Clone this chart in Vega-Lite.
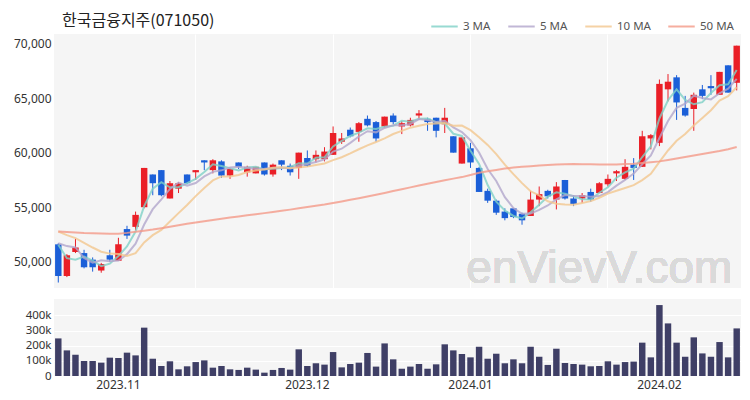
{
  "$schema": "https://vega.github.io/schema/vega-lite/v6.json",
  "background": "white",
  "padding": {"left": 5, "top": 12, "right": 9, "bottom": 5},
  "config": {
    "view": {"fill": "#f5f5f5", "stroke": null},
    "font": "Noto Sans",
    "axis": {"labelColor": "#333333", "labelFontSize": 12, "domain": false, "ticks": false, "gridColor": "#ffffff", "gridWidth": 1, "title": null}
  },
  "title": {"text": "한국금융지주(071050)", "font": "Noto Sans CJK KR", "fontSize": 16, "fontWeight": "normal", "color": "#222222", "anchor": "start", "frame": "group", "dx": 8, "offset": -17},
  "data": {"values": [
    {"d":"2023-10-23","o":51600,"h":51700,"l":48100,"c":48700,"v":248000,"m3":51570,"m5":51700,"m10":52780,"m50":52780},
    {"d":"2023-10-24","o":48700,"h":50700,"l":48600,"c":50600,"v":169000,"m3":50330,"m5":51440,"m10":52440,"m50":52730},
    {"d":"2023-10-25","o":50900,"h":52100,"l":50800,"c":51300,"v":141000,"m3":50200,"m5":51320,"m10":52170,"m50":52680},
    {"d":"2023-10-26","o":50800,"h":51100,"l":49400,"c":49500,"v":99000,"m3":50470,"m5":50360,"m10":51740,"m50":52630},
    {"d":"2023-10-27","o":50200,"h":50400,"l":49100,"c":49500,"v":99000,"m3":50100,"m5":49920,"m10":51310,"m50":52610},
    {"d":"2023-10-30","o":49200,"h":49900,"l":49000,"c":49800,"v":88000,"m3":49600,"m5":50140,"m10":50920,"m50":52600},
    {"d":"2023-10-31","o":50600,"h":51100,"l":50000,"c":50200,"v":121000,"m3":49830,"m5":50060,"m10":50750,"m50":52580},
    {"d":"2023-11-01","o":50100,"h":52200,"l":50100,"c":51600,"v":119000,"m3":50530,"m5":50120,"m10":50720,"m50":52570},
    {"d":"2023-11-02","o":53000,"h":53300,"l":52100,"c":52400,"v":154000,"m3":51400,"m5":50700,"m10":50530,"m50":52650},
    {"d":"2023-11-03","o":53200,"h":54600,"l":52900,"c":54300,"v":136000,"m3":52770,"m5":51660,"m10":50790,"m50":52750},
    {"d":"2023-11-06","o":55000,"h":58600,"l":54900,"c":58600,"v":319000,"m3":55100,"m5":53420,"m10":51780,"m50":52850},
    {"d":"2023-11-07","o":58000,"h":58000,"l":56100,"c":57200,"v":114000,"m3":56700,"m5":54820,"m10":52440,"m50":52950},
    {"d":"2023-11-08","o":58400,"h":58400,"l":56000,"c":56100,"v":66000,"m3":57300,"m5":55720,"m10":52920,"m50":53080},
    {"d":"2023-11-09","o":55800,"h":57400,"l":55800,"c":57200,"v":97000,"m3":56830,"m5":56680,"m10":53690,"m50":53210},
    {"d":"2023-11-10","o":56700,"h":57300,"l":56300,"c":57200,"v":44000,"m3":56830,"m5":57260,"m10":54460,"m50":53340},
    {"d":"2023-11-13","o":58000,"h":58000,"l":57100,"c":57200,"v":64000,"m3":57200,"m5":56980,"m10":55200,"m50":53480},
    {"d":"2023-11-14","o":58200,"h":58400,"l":57500,"c":58400,"v":92000,"m3":57600,"m5":57220,"m10":56020,"m50":53600},
    {"d":"2023-11-15","o":59300,"h":59300,"l":58400,"c":59100,"v":103000,"m3":58230,"m5":57820,"m10":56770,"m50":53720},
    {"d":"2023-11-16","o":58400,"h":59400,"l":58100,"c":59300,"v":55000,"m3":58930,"m5":58240,"m10":57460,"m50":53840},
    {"d":"2023-11-17","o":59200,"h":59300,"l":57700,"c":57900,"v":66000,"m3":58770,"m5":58380,"m10":57820,"m50":53950},
    {"d":"2023-11-20","o":57900,"h":58600,"l":57600,"c":58500,"v":44000,"m3":58570,"m5":58640,"m10":57810,"m50":54060},
    {"d":"2023-11-21","o":59100,"h":59100,"l":58500,"c":58700,"v":40000,"m3":58370,"m5":58700,"m10":57960,"m50":54160},
    {"d":"2023-11-22","o":58200,"h":58800,"l":57800,"c":58700,"v":55000,"m3":58630,"m5":58620,"m10":58220,"m50":54260},
    {"d":"2023-11-23","o":58100,"h":58700,"l":58100,"c":58700,"v":42000,"m3":58700,"m5":58500,"m10":58370,"m50":54360},
    {"d":"2023-11-24","o":59100,"h":59100,"l":57900,"c":58000,"v":22000,"m3":58470,"m5":58520,"m10":58450,"m50":54460},
    {"d":"2023-11-27","o":58000,"h":59000,"l":57800,"c":58900,"v":40000,"m3":58530,"m5":58600,"m10":58620,"m50":54560},
    {"d":"2023-11-28","o":59300,"h":59300,"l":58400,"c":58900,"v":53000,"m3":58600,"m5":58640,"m10":58670,"m50":54670},
    {"d":"2023-11-29","o":58800,"h":59000,"l":57900,"c":58200,"v":42000,"m3":58670,"m5":58540,"m10":58580,"m50":54780},
    {"d":"2023-11-30","o":58600,"h":60000,"l":57600,"c":60000,"v":176000,"m3":59030,"m5":58800,"m10":58650,"m50":54900},
    {"d":"2023-12-01","o":59500,"h":60200,"l":58700,"c":58800,"v":66000,"m3":59000,"m5":58960,"m10":58740,"m50":55020},
    {"d":"2023-12-04","o":59400,"h":60200,"l":59100,"c":59800,"v":84000,"m3":59530,"m5":59140,"m10":58870,"m50":55130},
    {"d":"2023-12-05","o":59400,"h":60500,"l":59200,"c":60100,"v":75000,"m3":59570,"m5":59380,"m10":59010,"m50":55250},
    {"d":"2023-12-06","o":59800,"h":62400,"l":59800,"c":61800,"v":158000,"m3":60570,"m5":60100,"m10":59320,"m50":55390},
    {"d":"2023-12-07","o":61000,"h":61800,"l":60800,"c":61300,"v":57000,"m3":61070,"m5":60360,"m10":59580,"m50":55530},
    {"d":"2023-12-08","o":62100,"h":62300,"l":61400,"c":61500,"v":79000,"m3":61530,"m5":60900,"m10":59930,"m50":55680},
    {"d":"2023-12-11","o":61900,"h":62800,"l":61000,"c":62700,"v":88000,"m3":61830,"m5":61480,"m10":60310,"m50":55830},
    {"d":"2023-12-12","o":63100,"h":63400,"l":62400,"c":62500,"v":152000,"m3":62230,"m5":61960,"m10":60670,"m50":55990},
    {"d":"2023-12-13","o":62800,"h":62900,"l":61000,"c":61300,"v":62000,"m3":62170,"m5":61860,"m10":60980,"m50":56150},
    {"d":"2023-12-14","o":62400,"h":63300,"l":62300,"c":63300,"v":215000,"m3":62370,"m5":62260,"m10":61310,"m50":56310},
    {"d":"2023-12-15","o":63400,"h":63600,"l":62600,"c":62800,"v":110000,"m3":62470,"m5":62520,"m10":61710,"m50":56480},
    {"d":"2023-12-18","o":62400,"h":62900,"l":61700,"c":62700,"v":48000,"m3":62930,"m5":62520,"m10":62000,"m50":56650},
    {"d":"2023-12-19","o":62500,"h":63200,"l":62400,"c":63000,"v":62000,"m3":62830,"m5":62620,"m10":62290,"m50":56820},
    {"d":"2023-12-20","o":63400,"h":63900,"l":63000,"c":63600,"v":79000,"m3":63100,"m5":63080,"m10":62470,"m50":56990},
    {"d":"2023-12-21","o":63100,"h":63200,"l":62000,"c":62800,"v":48000,"m3":63130,"m5":62980,"m10":62620,"m50":57160},
    {"d":"2023-12-22","o":63200,"h":63200,"l":61400,"c":62000,"v":77000,"m3":62800,"m5":62820,"m10":62670,"m50":57320},
    {"d":"2023-12-26","o":62600,"h":64100,"l":61800,"c":63200,"v":209000,"m3":62670,"m5":62920,"m10":62720,"m50":57480},
    {"d":"2023-12-27","o":61500,"h":61500,"l":60000,"c":60000,"v":169000,"m3":61730,"m5":62320,"m10":62470,"m50":57620},
    {"d":"2023-12-28","o":59000,"h":61400,"l":59000,"c":61400,"v":145000,"m3":61530,"m5":61880,"m10":62480,"m50":57760},
    {"d":"2024-01-02","o":60400,"h":60900,"l":58600,"c":59100,"v":123000,"m3":60170,"m5":61140,"m10":62060,"m50":57950},
    {"d":"2024-01-03","o":58600,"h":58700,"l":56400,"c":56400,"v":193000,"m3":58970,"m5":60020,"m10":61420,"m50":58150},
    {"d":"2024-01-04","o":56500,"h":56700,"l":55400,"c":55600,"v":114000,"m3":57030,"m5":58500,"m10":60710,"m50":58300},
    {"d":"2024-01-05","o":55600,"h":55700,"l":54300,"c":54500,"v":147000,"m3":55500,"m5":57400,"m10":59860,"m50":58420},
    {"d":"2024-01-08","o":54600,"h":54900,"l":53800,"c":54000,"v":84000,"m3":54700,"m5":55920,"m10":58900,"m50":58540},
    {"d":"2024-01-09","o":54900,"h":54900,"l":54000,"c":54100,"v":110000,"m3":54200,"m5":54920,"m10":58030,"m50":58630},
    {"d":"2024-01-10","o":54400,"h":54500,"l":53400,"c":53800,"v":84000,"m3":53970,"m5":54400,"m10":57210,"m50":58700},
    {"d":"2024-01-11","o":54200,"h":56500,"l":54200,"c":55700,"v":193000,"m3":54530,"m5":54420,"m10":56460,"m50":58760},
    {"d":"2024-01-12","o":55700,"h":56900,"l":55100,"c":56200,"v":127000,"m3":55230,"m5":54760,"m10":56080,"m50":58820},
    {"d":"2024-01-15","o":56500,"h":56600,"l":55800,"c":56000,"v":73000,"m3":55970,"m5":55160,"m10":55540,"m50":58870},
    {"d":"2024-01-16","o":55700,"h":57300,"l":54800,"c":56900,"v":180000,"m3":56370,"m5":55720,"m10":55320,"m50":58910},
    {"d":"2024-01-17","o":57500,"h":57500,"l":55700,"c":55800,"v":86000,"m3":56230,"m5":56120,"m10":55260,"m50":58940},
    {"d":"2024-01-18","o":55800,"h":56100,"l":55100,"c":55300,"v":79000,"m3":56000,"m5":56040,"m10":55230,"m50":58950},
    {"d":"2024-01-19","o":55800,"h":56300,"l":55400,"c":56100,"v":75000,"m3":55730,"m5":56020,"m10":55390,"m50":58940},
    {"d":"2024-01-22","o":56400,"h":56700,"l":55500,"c":55700,"v":64000,"m3":55700,"m5":55960,"m10":55560,"m50":58930},
    {"d":"2024-01-23","o":56300,"h":57300,"l":56300,"c":57200,"v":66000,"m3":56330,"m5":56020,"m10":55870,"m50":58920},
    {"d":"2024-01-24","o":57100,"h":58000,"l":56900,"c":57600,"v":97000,"m3":56830,"m5":56380,"m10":56250,"m50":58910},
    {"d":"2024-01-25","o":58100,"h":58400,"l":57400,"c":58300,"v":75000,"m3":57700,"m5":56980,"m10":56510,"m50":58920},
    {"d":"2024-01-26","o":57600,"h":59400,"l":57500,"c":58700,"v":92000,"m3":58200,"m5":57500,"m10":56760,"m50":58950},
    {"d":"2024-01-29","o":58900,"h":59500,"l":57500,"c":58600,"v":95000,"m3":58530,"m5":58080,"m10":57020,"m50":58990},
    {"d":"2024-01-30","o":58700,"h":62000,"l":58700,"c":61500,"v":220000,"m3":59600,"m5":58940,"m10":57480,"m50":59050},
    {"d":"2024-01-31","o":61300,"h":61700,"l":60300,"c":61600,"v":123000,"m3":60570,"m5":59740,"m10":58060,"m50":59120},
    {"d":"2024-02-01","o":60900,"h":66700,"l":60600,"c":66300,"v":468000,"m3":63130,"m5":61340,"m10":59160,"m50":59200},
    {"d":"2024-02-02","o":65800,"h":67200,"l":64700,"c":66500,"v":347000,"m3":64800,"m5":62900,"m10":60200,"m50":59330},
    {"d":"2024-02-05","o":66900,"h":67100,"l":63000,"c":64600,"v":220000,"m3":65800,"m5":64100,"m10":61090,"m50":59470},
    {"d":"2024-02-06","o":64100,"h":65200,"l":63300,"c":63400,"v":127000,"m3":64830,"m5":64480,"m10":61710,"m50":59600},
    {"d":"2024-02-07","o":64000,"h":65500,"l":62000,"c":65300,"v":255000,"m3":64430,"m5":65220,"m10":62480,"m50":59740},
    {"d":"2024-02-08","o":65800,"h":66200,"l":64900,"c":65200,"v":149000,"m3":64630,"m5":65000,"m10":63170,"m50":59880},
    {"d":"2024-02-13","o":66100,"h":67100,"l":65300,"c":65900,"v":127000,"m3":65470,"m5":64880,"m10":63890,"m50":60020},
    {"d":"2024-02-14","o":65300,"h":67400,"l":65300,"c":67400,"v":224000,"m3":66170,"m5":65440,"m10":64770,"m50":60160},
    {"d":"2024-02-15","o":68000,"h":68000,"l":65500,"c":65500,"v":123000,"m3":66270,"m5":65860,"m10":65170,"m50":60320},
    {"d":"2024-02-16","o":66400,"h":69800,"l":65700,"c":69800,"v":314000,"m3":67570,"m5":66760,"m10":65990,"m50":60520}
  ]},
  "spacing": 6,
  "vconcat": [
    {
      "width": 687,
      "height": 254,
      "layer": [
        {
          "mark": {"type": "text", "text": "enVievV.com", "font": "Liberation Sans", "fontSize": 46, "color": "#dadada", "align": "center", "baseline": "middle"},
          "encoding": {
            "x": {"datum": "2024-01-23", "type": "ordinal"},
            "y": {"datum": 49300, "type": "quantitative"}
          }
        },
        {
          "mark": {"type": "rule", "strokeWidth": 1},
          "encoding": {
            "x": {"field": "d", "type": "ordinal", "scale": {"paddingInner": 0.25, "paddingOuter": 0.125},
                  "axis": {"labels": false, "grid": true, "values": ["2023-11-14", "2023-12-06", "2024-01-02", "2024-01-24"]}},
            "y": {"field": "l", "type": "quantitative", "scale": {"domain": [47600, 70870], "zero": false, "nice": false},
                  "axis": {"values": [50000, 55000, 60000, 65000, 70000], "format": ",.0f", "minExtent": 49, "maxExtent": 49, "labelPadding": 3}},
            "y2": {"field": "h"},
            "color": {"condition": {"test": "datum.c >= datum.o", "value": "#ea1f27"}, "value": "#1b5fd8"}
          }
        },
        {
          "mark": {"type": "bar"},
          "encoding": {
            "x": {"field": "d", "type": "ordinal"},
            "y": {"field": "o", "type": "quantitative"},
            "y2": {"field": "c"},
            "color": {"condition": {"test": "datum.c >= datum.o", "value": "#ea1f27"}, "value": "#1b5fd8"}
          }
        },
        {
          "transform": [{"fold": ["m3", "m5", "m10", "m50"], "as": ["k", "val"]}],
          "mark": {"type": "line", "strokeWidth": 2, "opacity": 0.8},
          "encoding": {
            "x": {"field": "d", "type": "ordinal"},
            "y": {"field": "val", "type": "quantitative"},
            "color": {"field": "k", "type": "nominal",
                      "scale": {"domain": ["m3", "m5", "m10", "m50"], "range": ["#7fd1c7", "#b2a6cc", "#f3c78f", "#f49a88"]},
                      "legend": {"orient": "none", "legendX": 376, "legendY": -22, "direction": "horizontal", "title": null,
                                 "symbolType": "stroke", "symbolStrokeWidth": 2, "symbolSize": 700, "labelFontSize": 11.5,
                                 "labelColor": "#555555", "columnPadding": 13, "labelOffset": 4,
                                 "labelExpr": "{'m3':'3 MA','m5':'5 MA','m10':'10 MA','m50':'50 MA'}[datum.value]"}}
          }
        }
      ]
    },
    {
      "width": 687,
      "height": 77,
      "mark": {"type": "bar", "color": "#3f3f66"},
      "encoding": {
        "x": {"field": "d", "type": "ordinal", "scale": {"paddingInner": 0.25, "paddingOuter": 0.125},
              "axis": {"values": ["2023-11-01", "2023-12-01", "2024-01-02", "2024-02-01"],
                       "labelExpr": "replace(substring(datum.value,0,7),'-','.')", "labelAngle": 0, "labelPadding": 3, "grid": false}},
        "y": {"field": "v", "type": "quantitative", "scale": {"domain": [0, 508000], "nice": false},
              "axis": {"values": [0, 100000, 200000, 300000, 400000], "labelFontSize": 11.5, "labelExpr": "datum.value == 0 ? '0' : (datum.value / 1000) + 'k'", "minExtent": 49, "maxExtent": 49, "labelPadding": 3}}
      }
    }
  ]
}
